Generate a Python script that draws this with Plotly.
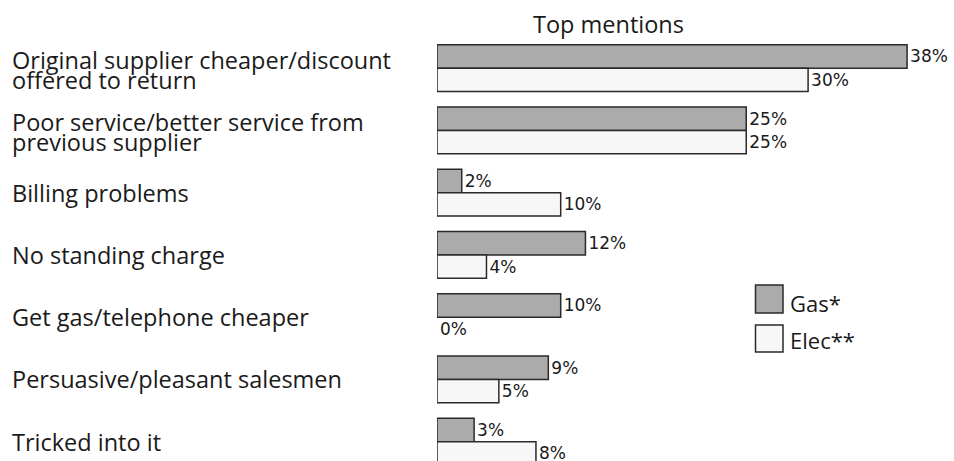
import plotly.graph_objects as go

categories = [
    "Original supplier cheaper/discount<br>offered to return",
    "Poor service/better service from<br>previous supplier",
    "Billing problems",
    "No standing charge",
    "Get gas/telephone cheaper",
    "Persuasive/pleasant salesmen",
    "Tricked into it",
]
gas = [38, 25, 2, 12, 10, 9, 3]
elec = [30, 25, 10, 4, 0, 5, 8]
series_names = ["Gas*", "Elec**"]
title_text = "Top mentions"

GAS_FILL = "#ababab"
ELEC_FILL = "#f7f7f7"
EDGE = "#2a2a2a"
TXT = "#1a1a1a"
FONT = "Open Sans"

W, H = 954, 461
ML, MT = 437, 37
PW, PH = W - ML, H - MT
PX_PER_UNIT = 12.37

fig = go.Figure()
for name, vals, fill in [(series_names[0], gas, GAS_FILL), (series_names[1], elec, ELEC_FILL)]:
    fig.add_trace(go.Bar(
        name=name, y=categories, x=vals, orientation="h",
        marker=dict(color=fill, line=dict(color=EDGE, width=[1.5 if v else 0 for v in vals])),
        text=[f"{v}%" for v in vals], textposition="outside",
        textfont=dict(family="DejaVu Sans", size=17, color=TXT),
        constraintext="none",
        cliponaxis=True, showlegend=False,
    ))

annotations = []
LABEL_SIZE = 23.5
for c in categories:
    lines = c.split("<br>")
    if len(lines) == 1:
        shifts = [0]
    else:
        shifts = [8.5, -11.5]
    for ln, sh in zip(lines, shifts):
        annotations.append(dict(
            x=(10 - ML) / PW, xref="paper", y=c, yref="y", yshift=sh,
            text=ln, showarrow=False, xanchor="left", yanchor="middle", align="left",
            font=dict(family=FONT, size=LABEL_SIZE, color=TXT),
        ))

annotations.append(dict(
    x=(608 - ML) / PW, xref="paper", y=(H - 24) / PH, yref="paper",
    text=title_text, showarrow=False, xanchor="center", yanchor="middle",
    font=dict(family=FONT, size=23.5, color=TXT),
))

def py(p):
    return (H - p) / PH

def px(p):
    return (p - ML) / PW

shapes = []
legend_rows = [(series_names[0], GAS_FILL, 285, 313, 303), (series_names[1], ELEC_FILL, 325, 352, 339.5)]
for name, fill, y0, y1, ty in legend_rows:
    shapes.append(dict(type="rect", xref="paper", yref="paper",
                       x0=px(755.5), x1=px(783), y0=py(y1), y1=py(y0),
                       fillcolor=fill, line=dict(color=EDGE, width=1.5)))
    annotations.append(dict(
        x=px(788), xref="paper", y=py(ty), yref="paper",
        text=name, showarrow=False, xanchor="left", yanchor="middle",
        font=dict(family=FONT, size=22, color=TXT),
    ))

fig.update_layout(
    width=W, height=H,
    margin=dict(l=ML, r=0, t=MT, b=0, pad=0),
    paper_bgcolor="white", plot_bgcolor="white",
    barmode="group", bargap=0.25, bargroupgap=0,
    xaxis=dict(range=[0, PW / PX_PER_UNIT], visible=False),
    yaxis=dict(range=[-0.5 + PH / 62.25, -0.5], visible=False,
               categoryorder="array", categoryarray=categories),
    annotations=annotations, shapes=shapes,
    showlegend=False,
)

fig.write_html("out.html", config={"displayModeBar": False},
               post_script="document.body.style.margin='0';")
